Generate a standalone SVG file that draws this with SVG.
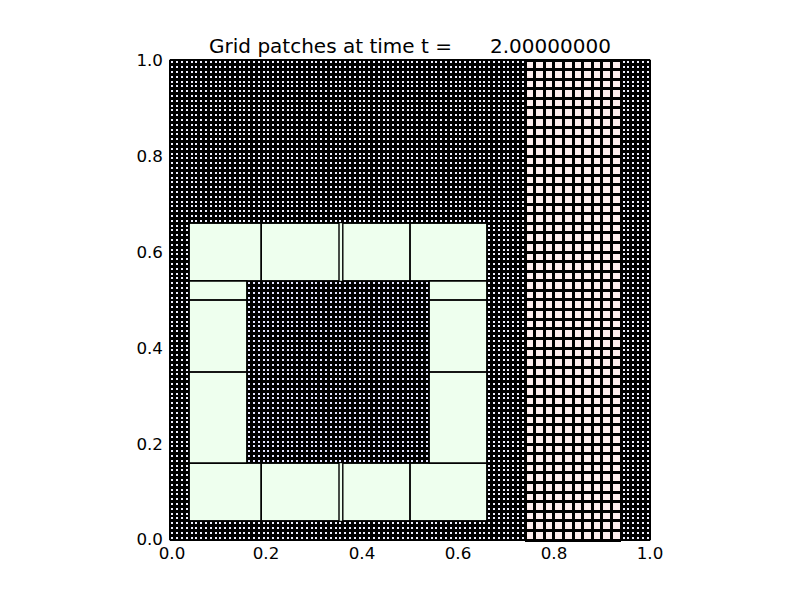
<svg xmlns="http://www.w3.org/2000/svg" xmlns:xlink="http://www.w3.org/1999/xlink" width="800" height="600" viewBox="0 0 800 600">
<style>
.lbl{font-family:"DejaVu Sans","Liberation Sans",sans-serif;font-size:16.7px;fill:#000}
.title{font-family:"DejaVu Sans","Liberation Sans",sans-serif;font-size:20px;fill:#000;white-space:pre}
.fine{fill:none;stroke:#000;stroke-width:2.9;shape-rendering:crispEdges}
.coarse{fill:none;stroke:#000;stroke-width:3;shape-rendering:crispEdges}
.patch{fill:none;stroke:#000;stroke-width:1.4}
</style>
<defs>
<path id="v10" class="fine" d="M170 60v480m4.8-480v480m4.8-480v480m4.8-480v480m4.8-480v480m4.8-480v480m4.8-480v480m4.8-480v480m4.8-480v480m4.8-480v480"/>
<path id="h10" class="fine" d="M170 60h480m-480 4.8h480m-480 4.8h480m-480 4.8h480m-480 4.8h480m-480 4.8h480m-480 4.8h480m-480 4.8h480m-480 4.8h480m-480 4.8h480"/>
<path id="pv" class="coarse" d="M525.2 60v480m9.6-480v480m9.6-480v480m9.6-480v480m9.6-480v480m9.6-480v480m9.6-480v480m9.6-480v480m9.6-480v480m9.6-480v480m9.6-480v480"/>
<path id="ph10" class="coarse" d="M525.2 60h96m-96 9.6h96m-96 9.6h96m-96 9.6h96m-96 9.6h96m-96 9.6h96m-96 9.6h96m-96 9.6h96m-96 9.6h96m-96 9.6h96"/>
</defs>
<rect width="800" height="600" fill="#fff"/>
<g id="level-fine-background">
<rect x="170" y="60" width="480" height="480" fill="#f0f0ff"/>
<rect id="inner-fine-patch" x="246.8" y="280.8" width="182.4" height="182.4" fill="#e4e4ff"/>
<use xlink:href="#v10" href="#v10"/>
<use xlink:href="#v10" href="#v10" x="48"/>
<use xlink:href="#v10" href="#v10" x="96"/>
<use xlink:href="#v10" href="#v10" x="144"/>
<use xlink:href="#v10" href="#v10" x="192"/>
<use xlink:href="#v10" href="#v10" x="240"/>
<use xlink:href="#v10" href="#v10" x="288"/>
<use xlink:href="#v10" href="#v10" x="336"/>
<use xlink:href="#v10" href="#v10" x="384"/>
<use xlink:href="#v10" href="#v10" x="432"/>
<path class="fine" d="M650 60v480"/>
<use xlink:href="#h10" href="#h10"/>
<use xlink:href="#h10" href="#h10" y="48"/>
<use xlink:href="#h10" href="#h10" y="96"/>
<use xlink:href="#h10" href="#h10" y="144"/>
<use xlink:href="#h10" href="#h10" y="192"/>
<use xlink:href="#h10" href="#h10" y="240"/>
<use xlink:href="#h10" href="#h10" y="288"/>
<use xlink:href="#h10" href="#h10" y="336"/>
<use xlink:href="#h10" href="#h10" y="384"/>
<use xlink:href="#h10" href="#h10" y="432"/>
<path class="fine" d="M170 540h480"/>
</g>
<g id="level-pink-strip">
<rect x="525.2" y="60" width="96" height="480" fill="#ffeeee"/>
<use xlink:href="#pv" href="#pv"/>
<use xlink:href="#ph10" href="#ph10"/>
<use xlink:href="#ph10" href="#ph10" y="96"/>
<use xlink:href="#ph10" href="#ph10" y="192"/>
<use xlink:href="#ph10" href="#ph10" y="288"/>
<use xlink:href="#ph10" href="#ph10" y="384"/>
<path class="coarse" d="M525.2 540h96"/>
</g>
<g id="level-green-ring">
<path fill="#eeffee" fill-rule="evenodd" d="M189.2 223.2h297.6v297.6h-297.6z M246.8 280.8v182.4h182.4v-182.4z"/>
</g>
<g id="patch-outlines">
<rect class="patch" x="189.2" y="223.2" width="72" height="57.6"/>
<rect class="patch" x="261.2" y="223.2" width="77.8" height="57.6"/>
<rect class="patch" x="342.8" y="223.2" width="67.2" height="57.6"/>
<rect class="patch" x="410" y="223.2" width="76.8" height="57.6"/>
<rect class="patch" x="189.2" y="463.2" width="72" height="57.6"/>
<rect class="patch" x="261.2" y="463.2" width="77.8" height="57.6"/>
<rect class="patch" x="342.8" y="463.2" width="67.2" height="57.6"/>
<rect class="patch" x="410" y="463.2" width="76.8" height="57.6"/>
<rect class="patch" x="189.2" y="280.8" width="57.6" height="19.2"/>
<rect class="patch" x="189.2" y="300" width="57.6" height="72"/>
<rect class="patch" x="189.2" y="372" width="57.6" height="91.2"/>
<rect class="patch" x="429.2" y="280.8" width="57.6" height="19.2"/>
<rect class="patch" x="429.2" y="300" width="57.6" height="72"/>
<rect class="patch" x="429.2" y="372" width="57.6" height="91.2"/>
</g>
<g id="axes">
<rect x="170" y="60" width="480" height="480" fill="none" stroke="#000" stroke-width="1"/>
<text class="title" x="410" y="53" text-anchor="middle">Grid patches at time t =      2.00000000</text>
<g text-anchor="middle">
<text class="lbl" x="172" y="559">0.0</text>
<text class="lbl" x="266" y="559">0.2</text>
<text class="lbl" x="362" y="559">0.4</text>
<text class="lbl" x="458" y="559">0.6</text>
<text class="lbl" x="554" y="559">0.8</text>
<text class="lbl" x="650" y="559">1.0</text>
</g>
<g text-anchor="end">
<text class="lbl" x="163" y="545">0.0</text>
<text class="lbl" x="163" y="450">0.2</text>
<text class="lbl" x="163" y="354">0.4</text>
<text class="lbl" x="163" y="258">0.6</text>
<text class="lbl" x="163" y="162">0.8</text>
<text class="lbl" x="163" y="66">1.0</text>
</g>
</g>
</svg>
